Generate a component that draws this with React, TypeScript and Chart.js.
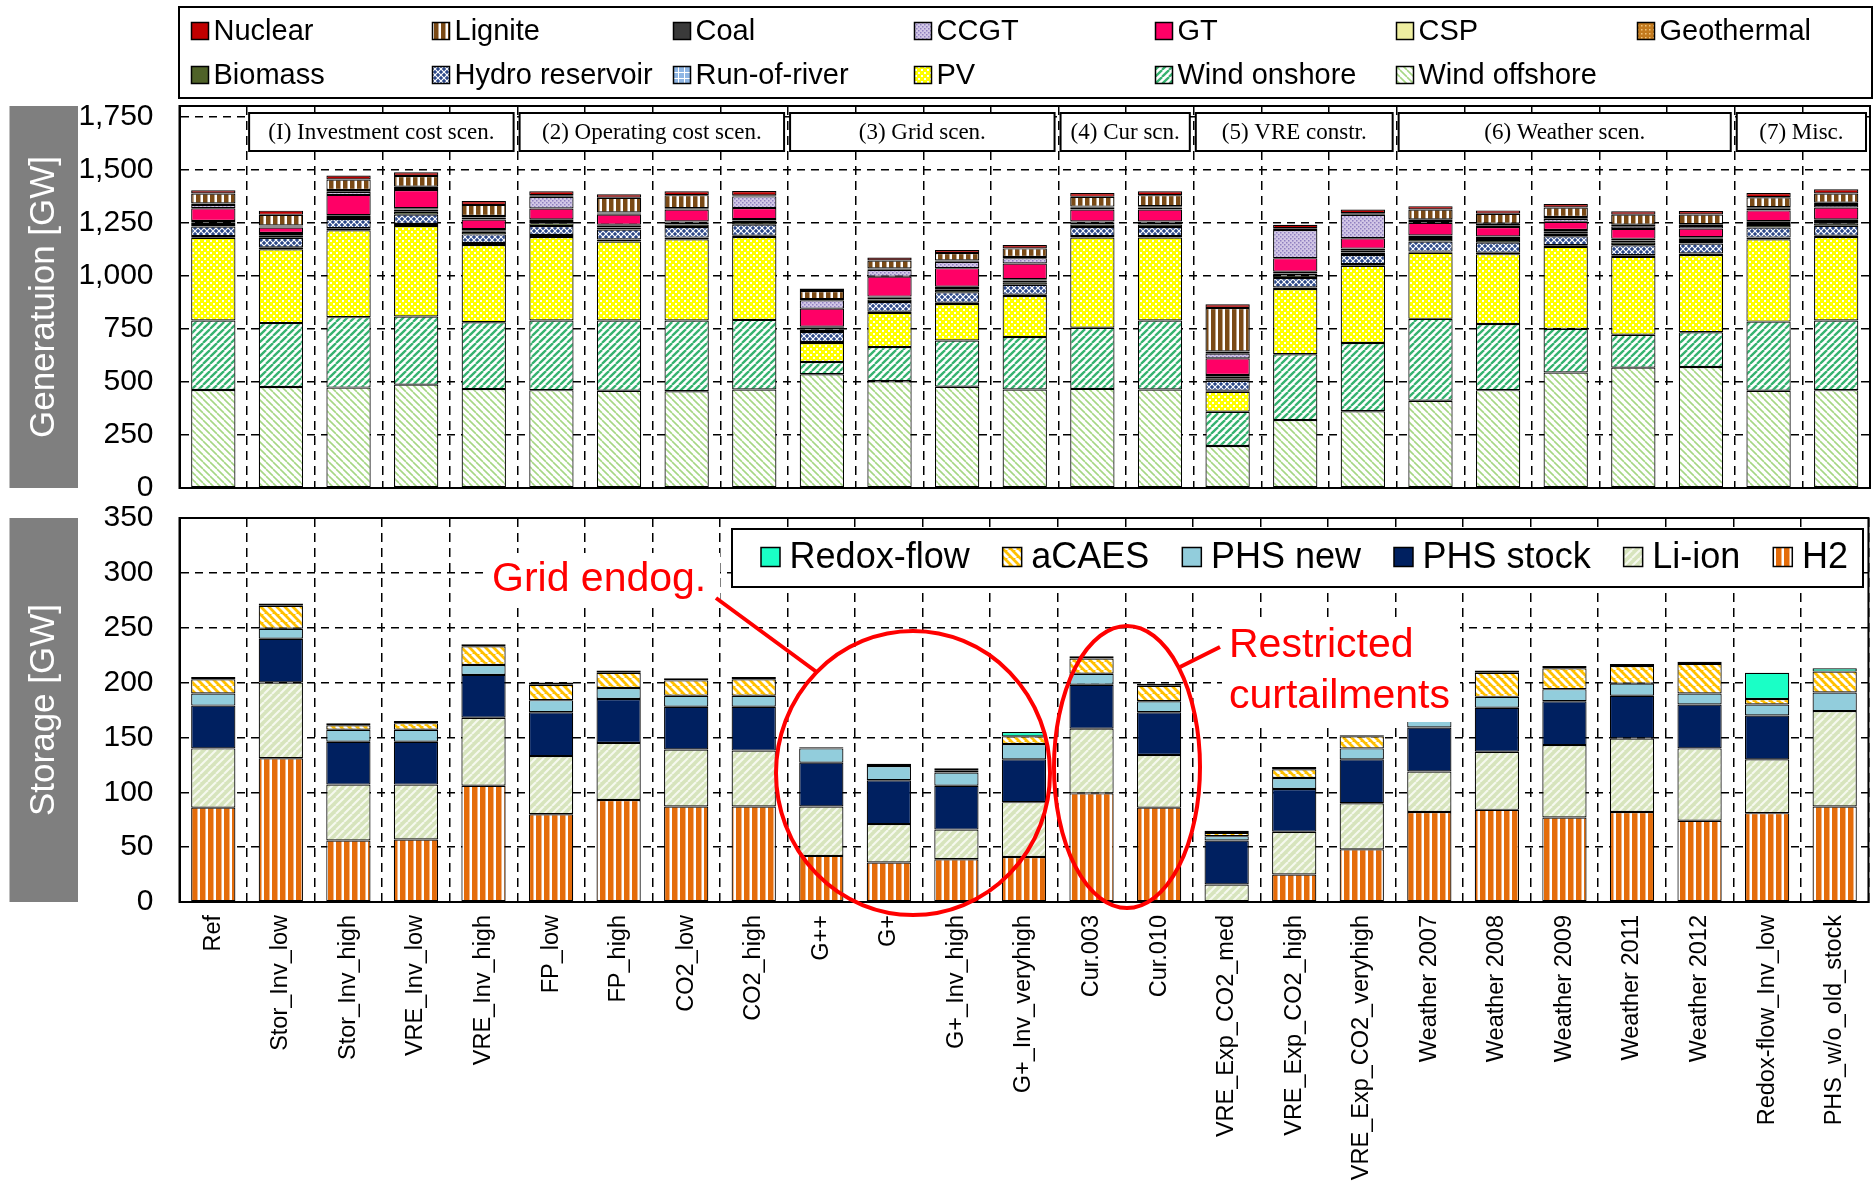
import React, { useEffect, useRef } from 'react';
import { Chart, registerables } from 'chart.js';

Chart.register(...registerables);

const SANS = "'Liberation Sans', Arial, Helvetica, sans-serif";
const SERIF = "'Liberation Serif', 'Times New Roman', serif";

// ---- scenarios ----
const categories = [
  'Ref', 'Stor_Inv_low', 'Stor_Inv_high', 'VRE_Inv_low', 'VRE_Inv_high',
  'FP_low', 'FP_high', 'CO2_low', 'CO2_high',
  'G++', 'G+', 'G+_Inv_high', 'G+_Inv_veryhigh',
  'Cur.003', 'Cur.010',
  'VRE_Exp_CO2_med', 'VRE_Exp_CO2_high', 'VRE_Exp_CO2_veryhigh',
  'Weather 2007', 'Weather 2008', 'Weather 2009', 'Weather 2011', 'Weather 2012',
  'Redox-flow_Inv_low', 'PHS_w/o_old_stock',
];

const scenarioGroups = [
  { label: '(I) Investment cost scen.', first: 1, last: 4 },
  { label: '(2) Operating cost scen.', first: 5, last: 8 },
  { label: '(3) Grid scen.', first: 9, last: 12 },
  { label: '(4) Cur scn.', first: 13, last: 14 },
  { label: '(5) VRE constr.', first: 15, last: 17 },
  { label: '(6) Weather scen.', first: 18, last: 22 },
  { label: '(7) Misc.', first: 23, last: 24 },
];

// ---- generation capacity [GW], stacked bottom to top ----
const windOffshore = [462, 476, 473, 487, 466, 461, 458, 456, 464, 536, 503, 477, 464, 467, 464, 198, 320, 362, 411, 461, 544, 567, 570, 458, 461];
const windOnshore = [327, 301, 332, 321, 315, 328, 331, 333, 328, 58, 161, 218, 247, 288, 325, 161, 310, 321, 386, 312, 206, 155, 164, 326, 328];
const pv = [390, 348, 409, 426, 364, 394, 372, 383, 391, 89, 161, 172, 194, 425, 391, 94, 308, 364, 311, 329, 386, 367, 364, 388, 394];
const runOfRiver = [8, 9, 10, 10, 10, 9, 10, 8, 6, 5, 6, 6, 6, 7, 7, 5, 7, 8, 6, 7, 8, 8, 7, 8, 6];
const hydroReservoir = [45, 45, 43, 44, 40, 42, 47, 50, 52, 47, 45, 49, 47, 43, 43, 47, 44, 43, 47, 47, 42, 47, 47, 47, 47];
const biomass = [12, 10, 10, 14, 12, 14, 10, 12, 12, 12, 12, 12, 12, 12, 12, 12, 12, 12, 12, 12, 12, 12, 12, 12, 12];
const geothermal = [8, 8, 6, 10, 8, 10, 8, 8, 8, 8, 8, 8, 8, 8, 8, 10, 10, 10, 10, 10, 10, 10, 10, 10, 10];
const csp = [6, 5, 3, 6, 5, 8, 5, 6, 6, 5, 6, 6, 6, 6, 6, 6, 8, 8, 7, 7, 8, 8, 8, 8, 8];
const gt = [60, 25, 95, 86, 45, 51, 47, 56, 52, 85, 94, 88, 74, 56, 56, 78, 64, 49, 60, 45, 38, 47, 41, 51, 56];
const ccgt = [15, 5, 15, 10, 10, 55, 5, 3, 55, 40, 32, 30, 25, 8, 10, 22, 133, 110, 8, 8, 15, 12, 12, 8, 12];
const coal = [8, 5, 8, 6, 7, 8, 5, 3, 5, 5, 6, 6, 6, 6, 6, 10, 8, 8, 8, 7, 8, 8, 8, 7, 10];
const lignite = [47, 50, 50, 50, 52, 0, 70, 62, 0, 38, 38, 35, 40, 46, 52, 205, 0, 0, 46, 47, 45, 47, 46, 47, 44];
const nuclear = [15, 20, 18, 18, 18, 18, 16, 18, 20, 12, 14, 15, 16, 18, 18, 18, 16, 17, 16, 16, 16, 16, 16, 20, 20];

// ---- storage capacity [GW], stacked bottom to top ----
const h2 = [86, 131, 56, 57, 106, 80, 93, 87, 87, 42, 36, 39, 41, 99, 86, 0, 25, 48, 82, 84, 77, 82, 74, 81, 87];
const liIon = [54, 69, 51, 50, 62, 53, 52, 52, 51, 45, 35, 27, 50, 59, 48, 16, 39, 42, 37, 53, 66, 67, 66, 49, 87];
const phsStock = [39, 40, 39, 39, 39, 40, 40, 39, 40, 40, 40, 40, 39, 40, 39, 40, 39, 40, 40, 40, 40, 39, 40, 40, 0];
const phsNew = [11, 9, 11, 11, 9, 11, 10, 10, 10, 13, 13, 12, 14, 10, 10, 4, 10, 10, 10, 10, 11, 11, 10, 10, 17];
const aCaes = [13, 21, 4, 6, 17, 14, 14, 14, 15, 0, 0, 2, 7, 14, 14, 3, 8, 11, 20, 22, 19, 16, 27, 5, 19];
const redoxFlow = [2, 2, 2, 2, 2, 2, 2, 2, 2, 1, 2, 2, 4, 2, 2, 2, 2, 1, 2, 2, 2, 2, 2, 24, 3];

// ---- axis ticks ----
const generationTicks = [0, 250, 500, 750, 1000, 1250, 1500, 1750];
const storageTicks = [0, 50, 100, 150, 200, 250, 300, 350];

const genSeries = [
  { name: 'Wind offshore', values: windOffshore },
  { name: 'Wind onshore', values: windOnshore },
  { name: 'PV', values: pv },
  { name: 'Run-of-river', values: runOfRiver },
  { name: 'Hydro reservoir', values: hydroReservoir },
  { name: 'Biomass', values: biomass },
  { name: 'Geothermal', values: geothermal },
  { name: 'CSP', values: csp },
  { name: 'GT', values: gt },
  { name: 'CCGT', values: ccgt },
  { name: 'Coal', values: coal },
  { name: 'Lignite', values: lignite },
  { name: 'Nuclear', values: nuclear },
];

const storageSeries = [
  { name: 'H2', values: h2 },
  { name: 'Li-ion', values: liIon },
  { name: 'PHS stock', values: phsStock },
  { name: 'PHS new', values: phsNew },
  { name: 'aCAES', values: aCaes },
  { name: 'Redox-flow', values: redoxFlow },
];

const genLegendRows = [
  ['Nuclear', 'Lignite', 'Coal', 'CCGT', 'GT', 'CSP', 'Geothermal'],
  ['Biomass', 'Hydro reservoir', 'Run-of-river', 'PV', 'Wind onshore', 'Wind offshore'],
];
const storageLegendOrder = ['Redox-flow', 'aCAES', 'PHS new', 'PHS stock', 'Li-ion', 'H2'];

// page placement of the two canvases
const GEN_H = 540;
const STO_TOP = 470;
const STO_H = 1192 - STO_TOP;

type Fill = string | CanvasPattern;

function tile(ctx: CanvasRenderingContext2D, w: number, h: number, draw: (g: CanvasRenderingContext2D) => void): CanvasPattern {
  const c = document.createElement('canvas');
  c.width = w;
  c.height = h;
  const g = c.getContext('2d')!;
  draw(g);
  return ctx.createPattern(c, 'repeat')!;
}

// dir 1 = "/" lines, dir -1 = "\" lines
function diagonal(ctx: CanvasRenderingContext2D, size: number, bg: string, fg: string, lw: number, dir: number) {
  return tile(ctx, size, size, (g) => {
    g.fillStyle = bg;
    g.fillRect(0, 0, size, size);
    g.strokeStyle = fg;
    g.lineWidth = lw;
    for (const k of [-size, 0, size]) {
      g.beginPath();
      if (dir === 1) {
        g.moveTo(k, size);
        g.lineTo(k + size, 0);
      } else {
        g.moveTo(k, 0);
        g.lineTo(k + size, size);
      }
      g.stroke();
    }
  });
}

function stripes(ctx: CanvasRenderingContext2D, w: number, bg: string, fg: string, fgW: number) {
  return tile(ctx, w, 2, (g) => {
    g.fillStyle = bg;
    g.fillRect(0, 0, w, 2);
    g.fillStyle = fg;
    g.fillRect(w - fgW, 0, fgW, 2);
  });
}

function genFills(ctx: CanvasRenderingContext2D): Record<string, Fill> {
  return {
    'Wind offshore': diagonal(ctx, 7, '#ffffff', '#a6d784', 1.6, -1),
    'Wind onshore': diagonal(ctx, 7, '#ffffff', '#35b26f', 2.3, 1),
    PV: tile(ctx, 6, 6, (g) => {
      g.fillStyle = '#ffff00';
      g.fillRect(0, 0, 6, 6);
      g.fillStyle = '#ffffff';
      g.fillRect(0, 0, 2, 2);
      g.fillRect(3, 3, 2, 2);
    }),
    'Run-of-river': tile(ctx, 6, 6, (g) => {
      g.fillStyle = '#8fb6e4';
      g.fillRect(0, 0, 6, 6);
      g.fillStyle = '#ffffff';
      g.fillRect(0, 0, 6, 1);
      g.fillRect(0, 0, 1, 6);
    }),
    'Hydro reservoir': tile(ctx, 6, 6, (g) => {
      g.fillStyle = '#2b4788';
      g.fillRect(0, 0, 6, 6);
      g.strokeStyle = '#ffffff';
      g.lineWidth = 1.2;
      for (const k of [-6, 0, 6]) {
        g.beginPath();
        g.moveTo(k, 6);
        g.lineTo(k + 6, 0);
        g.moveTo(k, 0);
        g.lineTo(k + 6, 6);
        g.stroke();
      }
    }),
    Biomass: '#4f6228',
    Geothermal: tile(ctx, 4, 4, (g) => {
      g.fillStyle = '#c27a1e';
      g.fillRect(0, 0, 4, 4);
      g.fillStyle = '#f2c47a';
      g.fillRect(1, 1, 1.5, 1.5);
    }),
    CSP: '#eeeea0',
    GT: '#ff0066',
    CCGT: tile(ctx, 4, 4, (g) => {
      g.fillStyle = '#d2c7e6';
      g.fillRect(0, 0, 4, 4);
      g.fillStyle = '#8f80bf';
      g.fillRect(0, 0, 1.5, 1.5);
      g.fillRect(2, 2, 1.5, 1.5);
    }),
    Coal: '#3a3a3a',
    Lignite: stripes(ctx, 7, '#7a4a16', '#ffffff', 2.5),
    Nuclear: '#c00000',
  };
}

function storageFills(ctx: CanvasRenderingContext2D): Record<string, Fill> {
  return {
    H2: stripes(ctx, 8, '#e46c0a', '#ffffff', 2.5),
    'Li-ion': diagonal(ctx, 8, '#d7e4bd', '#f6f9ef', 2, 1),
    'PHS stock': '#002060',
    'PHS new': '#92cddc',
    aCAES: diagonal(ctx, 8, '#ffc000', '#ffffff', 3, -1),
    'Redox-flow': '#1affc6',
  };
}

function axisTitleBox(ctx: CanvasRenderingContext2D, top: number, bottom: number, text: string) {
  ctx.save();
  ctx.fillStyle = '#7f7f7f';
  ctx.fillRect(9.5, top, 68.5, bottom - top);
  ctx.translate(9.5 + 68.5 / 2, (top + bottom) / 2);
  ctx.rotate(-Math.PI / 2);
  ctx.fillStyle = '#ffffff';
  ctx.font = `35px ${SANS}`;
  ctx.textAlign = 'center';
  ctx.textBaseline = 'middle';
  ctx.fillText(text, 0, 1);
  ctx.restore();
}

function marker(ctx: CanvasRenderingContext2D, x: number, y: number, size: number, fill: Fill) {
  ctx.fillStyle = fill as any;
  ctx.fillRect(x, y, size, size);
  ctx.strokeStyle = '#000';
  ctx.lineWidth = 1.5;
  ctx.strokeRect(x, y, size, size);
}

function barDatasets(series: { name: string; values: number[] }[], fills: Record<string, Fill>) {
  return series.map((s) => ({
    label: s.name,
    data: s.values,
    backgroundColor: fills[s.name] as any,
    borderColor: '#000000',
    borderWidth: 1.2,
    borderSkipped: false as const,
    barPercentage: 0.655,
    categoryPercentage: 1,
  }));
}

export default function App() {
  const genRef = useRef<HTMLCanvasElement>(null);
  const stoRef = useRef<HTMLCanvasElement>(null);

  useEffect(() => {
    const ctx1 = genRef.current!.getContext('2d')!;
    const ctx2 = stoRef.current!.getContext('2d')!;
    const gFills = genFills(ctx1);
    const sFills = storageFills(ctx2);

    const genDecor = {
      id: 'genDecor',
      afterDraw(chart: any) {
        const { ctx, chartArea: a, scales } = chart;
        const xs = scales.x;
        const half = (xs.getPixelForValue(1) - xs.getPixelForValue(0)) / 2;
        ctx.save();
        ctx.strokeStyle = '#000';
        ctx.lineWidth = 2;
        ctx.strokeRect(a.left, a.top, a.right - a.left, a.bottom - a.top);

        // scenario group headers
        ctx.font = `23px ${SERIF}`;
        ctx.textAlign = 'center';
        ctx.textBaseline = 'middle';
        for (const g of scenarioGroups) {
          const x1 = xs.getPixelForValue(g.first) - half + 2;
          const x2 = xs.getPixelForValue(g.last) + half - 4;
          const y1 = a.top + 7;
          const h = 38;
          ctx.fillStyle = '#fff';
          ctx.fillRect(x1, y1, x2 - x1, h);
          ctx.lineWidth = 2;
          ctx.strokeStyle = '#000';
          ctx.strokeRect(x1, y1, x2 - x1, h);
          ctx.fillStyle = '#000';
          ctx.fillText(g.label, (x1 + x2) / 2, y1 + h / 2 + 1);
        }

        axisTitleBox(ctx, a.top, a.bottom, 'Generatuion [GW]');

        // legend
        ctx.fillStyle = '#fff';
        ctx.fillRect(179, 7, 1693, 91);
        ctx.strokeStyle = '#000';
        ctx.lineWidth = 2;
        ctx.strokeRect(179, 7, 1693, 91);
        ctx.font = `29px ${SANS}`;
        ctx.textAlign = 'left';
        ctx.textBaseline = 'middle';
        const rowY = [31, 75];
        genLegendRows.forEach((row, r) => {
          row.forEach((name, c) => {
            const x = 191.5 + 241 * c;
            marker(ctx, x, rowY[r] - 8.5, 17, gFills[name]);
            ctx.fillStyle = '#000';
            ctx.fillText(name, x + 22, rowY[r] + 1);
          });
        });
        ctx.restore();
      },
    };

    const stoDecor = {
      id: 'stoDecor',
      afterDraw(chart: any) {
        const { ctx, chartArea: a } = chart;
        const Y = (pageY: number) => pageY - STO_TOP;
        ctx.save();
        ctx.strokeStyle = '#000';
        ctx.lineWidth = 2;
        ctx.strokeRect(a.left, a.top, a.right - a.left, a.bottom - a.top);

        axisTitleBox(ctx, a.top, a.bottom, 'Storage [GW]');

        // legend
        ctx.fillStyle = '#fff';
        ctx.fillRect(732, Y(529), 1131, 58);
        ctx.strokeStyle = '#000';
        ctx.lineWidth = 2;
        ctx.strokeRect(732, Y(529), 1131, 58);
        ctx.font = `36px ${SANS}`;
        ctx.textAlign = 'left';
        ctx.textBaseline = 'middle';
        let x = 761;
        const ly = Y(557);
        for (const name of storageLegendOrder) {
          marker(ctx, x, ly - 9.5, 19, sFills[name]);
          ctx.fillStyle = '#000';
          ctx.fillText(name, x + 28.6, ly + 1);
          x += 28.6 + ctx.measureText(name).width + 33;
        }

        // annotations
        ctx.fillStyle = '#fff';
        ctx.fillRect(486, Y(553), 234, 52);
        ctx.fillRect(1222, Y(617), 238, 105);
        ctx.fillStyle = '#ff0000';
        ctx.font = `41px ${SANS}`;
        ctx.fillText('Grid endog.', 492, Y(580));
        ctx.fillText('Restricted', 1229, Y(646));
        ctx.fillText('curtailments', 1229, Y(697));

        ctx.strokeStyle = '#ff0000';
        ctx.lineWidth = 4;
        ctx.beginPath();
        ctx.ellipse(913, Y(773), 137, 142, 0, 0, Math.PI * 2);
        ctx.stroke();
        ctx.beginPath();
        ctx.ellipse(1127, Y(767), 73, 141, 0, 0, Math.PI * 2);
        ctx.stroke();
        ctx.beginPath();
        ctx.moveTo(716, Y(598));
        ctx.lineTo(818, Y(673));
        ctx.moveTo(1180, Y(667));
        ctx.lineTo(1220, Y(647));
        ctx.stroke();
        ctx.restore();
      },
    };

    const gridColor = (top: number) => (c: any) =>
      c.tick && (c.tick.value === 0 || c.tick.value === top) ? 'rgba(0,0,0,0)' : '#000000';

    const genChart = new Chart(ctx1, {
      type: 'bar',
      data: { labels: categories, datasets: barDatasets(genSeries, gFills) as any },
      options: {
        responsive: false,
        animation: false,
        events: [],
        layout: { padding: { left: 0, right: 6, top: 106, bottom: GEN_H - 488 } },
        plugins: { legend: { display: false }, tooltip: { enabled: false } },
        scales: {
          x: {
            stacked: true,
            grid: { display: true, offset: true, color: '#000', lineWidth: 1.5, drawTicks: false },
            border: { display: true, color: '#000', width: 2, dash: [9, 6] },
            ticks: { display: false },
            afterFit: (s: any) => {
              s.height = 0;
            },
          },
          y: {
            stacked: true,
            min: 0,
            max: 1800,
            afterBuildTicks: (s: any) => {
              s.ticks = generationTicks.map((v) => ({ value: v }));
            },
            grid: { color: gridColor(1800) as any, lineWidth: 1.5, drawTicks: false },
            border: { display: true, color: '#000', width: 2, dash: [8, 6] },
            ticks: {
              padding: 26,
              color: '#000',
              font: { family: SANS, size: 30 },
              callback: (v: any) => Number(v).toLocaleString('en-US'),
            },
            afterFit: (s: any) => {
              s.width = 179.5;
            },
          },
        },
      },
      plugins: [genDecor],
    });

    const stoChart = new Chart(ctx2, {
      type: 'bar',
      data: { labels: categories, datasets: barDatasets(storageSeries, sFills) as any },
      options: {
        responsive: false,
        animation: false,
        events: [],
        layout: { padding: { left: 0, right: 6, top: 518 - STO_TOP, bottom: 0 } },
        plugins: { legend: { display: false }, tooltip: { enabled: false } },
        scales: {
          x: {
            stacked: true,
            grid: { display: true, offset: true, color: '#000', lineWidth: 1.5, drawTicks: false },
            border: { display: true, color: '#000', width: 2, dash: [9, 6] },
            ticks: {
              autoSkip: false,
              minRotation: 90,
              maxRotation: 90,
              padding: 13,
              color: '#000',
              font: { family: SANS, size: 23.5 },
            },
            afterFit: (s: any) => {
              s.height = 1192 - 902;
            },
          },
          y: {
            stacked: true,
            min: 0,
            max: 350,
            afterBuildTicks: (s: any) => {
              s.ticks = storageTicks.map((v) => ({ value: v }));
            },
            grid: { color: gridColor(350) as any, lineWidth: 1.5, drawTicks: false },
            border: { display: true, color: '#000', width: 2, dash: [8, 6] },
            ticks: {
              padding: 26,
              color: '#000',
              font: { family: SANS, size: 30 },
              callback: (v: any) => Number(v).toLocaleString('en-US'),
            },
            afterFit: (s: any) => {
              s.width = 179.5;
            },
          },
        },
      },
      plugins: [stoDecor],
    });

    return () => {
      genChart.destroy();
      stoChart.destroy();
    };
  }, []);

  return (
    <div style={{ position: 'fixed', left: 0, top: 0, width: 1876, height: 1192, background: '#ffffff' }}>
      <canvas ref={genRef} width={1876} height={GEN_H} style={{ position: 'absolute', left: 0, top: 0 }} />
      <canvas ref={stoRef} width={1876} height={STO_H} style={{ position: 'absolute', left: 0, top: STO_TOP }} />
    </div>
  );
}
